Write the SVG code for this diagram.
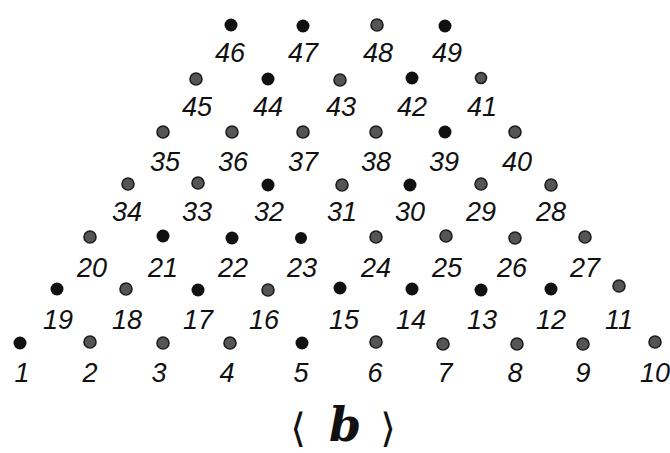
<svg xmlns="http://www.w3.org/2000/svg" width="670" height="453" viewBox="0 0 670 453">
<style>
.k{fill:#111}
.g{fill:#555;stroke:#1e1e1e;stroke-width:1.6}
text.n{font-family:"Liberation Sans",Arial,sans-serif;font-style:italic;font-size:27px;fill:#111;text-anchor:middle}
text.cap{font-family:"DejaVu Serif","Liberation Serif",serif;fill:#111;text-anchor:middle}
</style>
<rect width="670" height="453" fill="#fff"/>
<g id="n46"><circle class="k" cx="231" cy="25" r="6.5"/><text class="n" x="230" y="62">46</text></g>
<g id="n47"><circle class="k" cx="303" cy="26" r="6.5"/><text class="n" x="303" y="62">47</text></g>
<g id="n48"><circle class="g" cx="377" cy="25" r="6"/><text class="n" x="378" y="62">48</text></g>
<g id="n49"><circle class="k" cx="445" cy="26" r="6.5"/><text class="n" x="447" y="62">49</text></g>

<g id="n45"><circle class="g" cx="196" cy="79" r="6"/><text class="n" x="197" y="116">45</text></g>
<g id="n44"><circle class="k" cx="268" cy="79" r="6.5"/><text class="n" x="268" y="116">44</text></g>
<g id="n43"><circle class="g" cx="340" cy="80" r="6"/><text class="n" x="341" y="116">43</text></g>
<g id="n42"><circle class="k" cx="412" cy="78" r="6.5"/><text class="n" x="412" y="116">42</text></g>
<g id="n41"><circle class="g" cx="481" cy="78" r="5.5"/><text class="n" x="482" y="116">41</text></g>

<g id="n35"><circle class="g" cx="163" cy="132" r="6"/><text class="n" x="165" y="171">35</text></g>
<g id="n36"><circle class="g" cx="232" cy="132" r="6"/><text class="n" x="233" y="171">36</text></g>
<g id="n37"><circle class="g" cx="303" cy="132" r="6"/><text class="n" x="303" y="171">37</text></g>
<g id="n38"><circle class="g" cx="376" cy="132" r="6"/><text class="n" x="376" y="171">38</text></g>
<g id="n39"><circle class="k" cx="445" cy="132" r="6.5"/><text class="n" x="444" y="171">39</text></g>
<g id="n40"><circle class="g" cx="515" cy="132" r="6"/><text class="n" x="517" y="171">40</text></g>

<g id="n34"><circle class="g" cx="128" cy="184" r="6"/><text class="n" x="127" y="221">34</text></g>
<g id="n33"><circle class="g" cx="198" cy="183" r="6"/><text class="n" x="197" y="221">33</text></g>
<g id="n32"><circle class="k" cx="268" cy="185" r="6.5"/><text class="n" x="269" y="221">32</text></g>
<g id="n31"><circle class="g" cx="342" cy="185" r="6"/><text class="n" x="342" y="221">31</text></g>
<g id="n30"><circle class="k" cx="410" cy="185" r="6.5"/><text class="n" x="410" y="221">30</text></g>
<g id="n29"><circle class="g" cx="481" cy="184" r="6"/><text class="n" x="481" y="221">29</text></g>
<g id="n28"><circle class="g" cx="551" cy="185" r="6"/><text class="n" x="551" y="221">28</text></g>

<g id="n20"><circle class="g" cx="90" cy="237" r="6"/><text class="n" x="92" y="277">20</text></g>
<g id="n21"><circle class="k" cx="163" cy="236" r="6.5"/><text class="n" x="163" y="277">21</text></g>
<g id="n22"><circle class="k" cx="232" cy="238" r="6.5"/><text class="n" x="233" y="277">22</text></g>
<g id="n23"><circle class="k" cx="301" cy="238" r="6"/><text class="n" x="302" y="277">23</text></g>
<g id="n24"><circle class="g" cx="376" cy="237" r="6"/><text class="n" x="376" y="277">24</text></g>
<g id="n25"><circle class="g" cx="446" cy="236" r="6"/><text class="n" x="447" y="277">25</text></g>
<g id="n26"><circle class="g" cx="515" cy="238" r="6"/><text class="n" x="512" y="277">26</text></g>
<g id="n27"><circle class="g" cx="585" cy="237" r="6"/><text class="n" x="585" y="277">27</text></g>

<g id="n19"><circle class="k" cx="57" cy="289" r="6.5"/><text class="n" x="58" y="329">19</text></g>
<g id="n18"><circle class="g" cx="126" cy="289" r="6"/><text class="n" x="127" y="329">18</text></g>
<g id="n17"><circle class="k" cx="198" cy="290" r="6.5"/><text class="n" x="198" y="329">17</text></g>
<g id="n16"><circle class="g" cx="268" cy="290" r="6"/><text class="n" x="264" y="329">16</text></g>
<g id="n15"><circle class="k" cx="340" cy="288" r="6.5"/><text class="n" x="344" y="329">15</text></g>
<g id="n14"><circle class="k" cx="412" cy="289" r="6.5"/><text class="n" x="411" y="329">14</text></g>
<g id="n13"><circle class="k" cx="481" cy="290" r="6.5"/><text class="n" x="482" y="329">13</text></g>
<g id="n12"><circle class="k" cx="551" cy="289" r="6.5"/><text class="n" x="551" y="329">12</text></g>
<g id="n11"><circle class="g" cx="619" cy="286" r="6"/><text class="n" x="619" y="329">11</text></g>

<g id="n1"><circle class="k" cx="20" cy="343" r="6.5"/><text class="n" x="22" y="382">1</text></g>
<g id="n2"><circle class="g" cx="90" cy="342" r="6"/><text class="n" x="90" y="382">2</text></g>
<g id="n3"><circle class="g" cx="163" cy="343" r="6"/><text class="n" x="159" y="382">3</text></g>
<g id="n4"><circle class="g" cx="230" cy="343" r="6"/><text class="n" x="227" y="382">4</text></g>
<g id="n5"><circle class="k" cx="302" cy="343" r="6.5"/><text class="n" x="301" y="382">5</text></g>
<g id="n6"><circle class="g" cx="376" cy="342" r="6"/><text class="n" x="375" y="382">6</text></g>
<g id="n7"><circle class="g" cx="443" cy="344" r="6"/><text class="n" x="445" y="382">7</text></g>
<g id="n8"><circle class="g" cx="517" cy="344" r="6"/><text class="n" x="515" y="382">8</text></g>
<g id="n9"><circle class="g" cx="583" cy="344" r="6"/><text class="n" x="583" y="382">9</text></g>
<g id="n10"><circle class="g" cx="655" cy="342" r="6"/><text class="n" x="655" y="382">10</text></g>

<g id="caption">
<text class="cap" x="298" y="442" font-size="40">⟨</text>
<text class="cap" x="345" y="441" font-size="46" font-weight="bold" font-style="italic">b</text>
<text class="cap" x="388" y="442" font-size="40">⟩</text>
</g>
</svg>
